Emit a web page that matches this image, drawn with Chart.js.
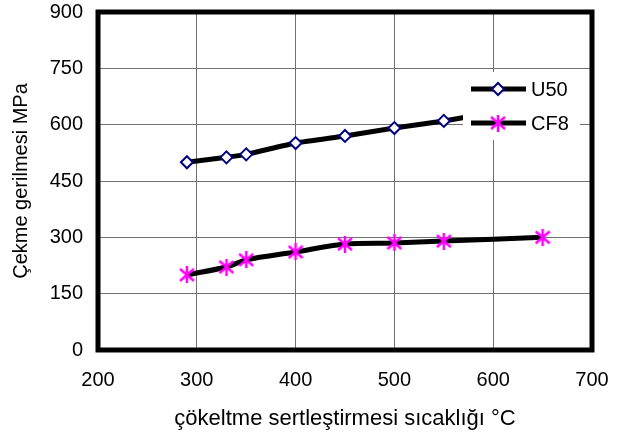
<!DOCTYPE html>
<html>
<head>
<meta charset="utf-8">
<script src="https://cdn.jsdelivr.net/npm/chart.js@4"></script>
<style>
  body { margin: 0; background: #fff; }
  #wrap { width: 629px; height: 434px; }
</style>
</head>
<body>
<div id="wrap"><canvas id="grafico"></canvas></div>
<script>
// temperaturas (°C)
const sicaklik = [290, 330, 350, 400, 450, 500, 550, 600, 650];
const u50 = [500, 513, 521, 551, 570, 591, 610, 632, 652];
const cf8 = [200, 221, 240, 261, 282, 285, 290, null, 300];
const xTicks = [200, 300, 400, 500, 600, 700];
const yTicks = [0, 150, 300, 450, 600, 750, 900];

const FONT = "'Liberation Sans', Arial, sans-serif";

function pontos(valores) {
    let lista = [];
    for (let i = 0; i < sicaklik.length; i++) {
        if (valores[i] !== null) lista.push({ x: sicaklik[i], y: valores[i] });
    }
    return lista;
}

// marcador asterisco (6 braços) como no Excel
function criarEstrela() {
    const c = document.createElement('canvas');
    c.width = 16;
    c.height = 17;
    const g = c.getContext('2d');
    g.strokeStyle = '#ff00ff';
    g.lineWidth = 2.5;
    g.beginPath();
    g.moveTo(8, 0); g.lineTo(8, 17);
    g.moveTo(1, 2.5); g.lineTo(15, 14.5);
    g.moveTo(15, 2.5); g.lineTo(1, 14.5);
    g.stroke();
    return c;
}
const estrela = criarEstrela();

// legenda desenhada por cima das linhas (caixa branca)
const legendaPlugin = {
    id: 'legendaBranca',
    afterDatasetsDraw(chart) {
        const ctx = chart.ctx;
        const a = chart.chartArea;
        const x0 = a.right - 129, y0 = a.top + 60;
        ctx.save();
        ctx.fillStyle = '#fff';
        ctx.fillRect(x0, y0, 117, 68);

        const itens = [
            { txt: 'U50', style: 'rectRot', cor: '#000080', fundo: '#fff', r: 6, y: y0 + 17 },
            { txt: 'CF8', style: estrela, cor: '#ff00ff', fundo: '#ff00ff', r: 7, y: y0 + 51 }
        ];
        itens.forEach(function (it) {
            ctx.strokeStyle = '#000';
            ctx.lineWidth = 5;
            ctx.beginPath();
            ctx.moveTo(x0 + 8, it.y);
            ctx.lineTo(x0 + 63, it.y);
            ctx.stroke();
            ctx.fillStyle = it.fundo;
            ctx.strokeStyle = it.cor;
            ctx.lineWidth = 2;
            Chart.helpers.drawPoint(ctx, { pointStyle: it.style, rotation: 0, radius: it.r, borderWidth: 2 }, x0 + 35, it.y);
            ctx.fillStyle = '#000';
            ctx.font = '20px ' + FONT;
            ctx.textBaseline = 'middle';
            ctx.fillText(it.txt, x0 + 68, it.y + 1);
        });
        ctx.restore();
    },
    afterDraw(chart) {
        const ctx = chart.ctx;
        const a = chart.chartArea;
        ctx.save();
        ctx.strokeStyle = '#000';
        ctx.lineWidth = 5;
        ctx.strokeRect(a.left, a.top, a.right - a.left, a.bottom - a.top);
        ctx.restore();
    }
};

const config = {
    type: 'line',
    data: {
        datasets: [{
            label: 'U50',
            data: pontos(u50),
            borderColor: '#000',
            borderWidth: 5,
            pointStyle: 'rectRot',
            pointRadius: 6,
            pointBorderWidth: 2,
            pointBorderColor: '#000080',
            pointBackgroundColor: '#fff',
            tension: 0.2
        }, {
            label: 'CF8',
            data: pontos(cf8),
            borderColor: '#000',
            borderWidth: 5,
            pointStyle: estrela,
            pointRadius: 7,
            tension: 0.3
        }]
    },
    options: {
        responsive: false,
        animation: false,
        layout: { padding: { left: 0, right: 37, top: 12, bottom: 0 } },
        plugins: { legend: { display: false }, tooltip: { enabled: false } },
        scales: {
            x: {
                type: 'linear',
                min: 200, max: 700,
                afterBuildTicks: function (s) { s.ticks = xTicks.map(v => ({ value: v })); },
                afterFit: function (s) { s.height = 84; },
                grid: { color: '#707070', lineWidth: 1, drawTicks: false },
                border: { display: false },
                ticks: { color: '#000', padding: 18, font: { family: FONT, size: 20 } },
                title: {
                    display: true,
                    text: 'çökeltme sertleştirmesi sıcaklığı °C',
                    color: '#000',
                    padding: { top: 0, bottom: 2 },
                    font: { family: FONT, size: 22 }
                }
            },
            y: {
                min: 0, max: 900,
                afterBuildTicks: function (s) { s.ticks = yTicks.map(v => ({ value: v })); },
                afterFit: function (s) { s.width = 98; s.paddingTop = 0; s.paddingBottom = 0; },
                grid: { color: '#707070', lineWidth: 1, drawTicks: false },
                border: { display: false },
                ticks: { color: '#000', padding: 15, font: { family: FONT, size: 20 } },
                title: {
                    display: true,
                    text: 'Çekme gerilmesi MPa',
                    color: '#000',
                    padding: { top: 9, bottom: 0 },
                    font: { family: FONT, size: 20 }
                }
            }
        }
    },
    plugins: [legendaPlugin]
};

const canvas = document.getElementById('grafico');
canvas.width = 629;
canvas.height = 434;
new Chart(canvas, config);
</script>
</body>
</html>
